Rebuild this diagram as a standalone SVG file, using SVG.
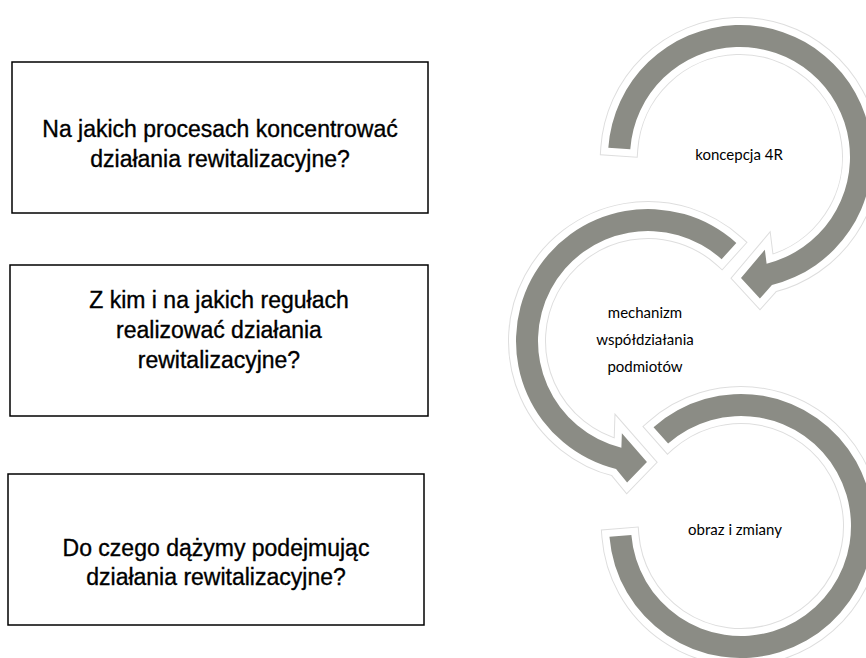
<svg xmlns="http://www.w3.org/2000/svg" xmlns:xlink="http://www.w3.org/1999/xlink" width="866" height="658" viewBox="0 0 866 658">
<style>
.box{fill:#fff;stroke:#000;stroke-width:1.5}
.q{font-family:"Liberation Sans",Arial,sans-serif;font-size:23px;fill:#000;stroke:#000;stroke-width:0.35;text-anchor:middle}
.o1{fill:none;stroke:#dedede;stroke-width:16;stroke-linejoin:miter;stroke-miterlimit:10}
.o2{fill:#fff;stroke:#fff;stroke-width:14;stroke-linejoin:miter;stroke-miterlimit:10}
.f{fill:#8b8c85;stroke:none}
.c{font-family:Lato,"Open Sans",sans-serif;font-size:15px;fill:#000;text-anchor:middle}
</style>
<defs>
<path id="a1" d="M608.32,147.79 A132,132 0 1 1 771.93,285.08 L759.90,298.61 L741,278 L764.85,249.73 L766.61,263.73 A110,110 0 1 0 630.27,149.33 Z"/>
<path id="a2" d="M736.33,242.91 A132,132 0 1 0 616.07,469.08 L627.11,482.47 L646.94,462 L621.86,433.37 L621.39,447.73 A110,110 0 1 1 721.60,259.25 Z"/>
<path id="a3" d="M653.53,427.14 A132,132 0 1 1 609.44,536.82 L631.37,535.01 A110,110 0 1 0 668.11,443.61 Z"/>
</defs>
<g id="q1">
<rect class="box" x="12" y="62" width="416" height="151"/>
<text class="q" x="220" y="137">Na jakich procesach koncentrować</text>
<text class="q" x="220" y="167">działania rewitalizacyjne?</text>
</g>
<g id="q2">
<rect class="box" x="10" y="265" width="418" height="151"/>
<text class="q" x="219" y="308">Z kim i na jakich regułach</text>
<text class="q" x="219" y="338">realizować działania</text>
<text class="q" x="219" y="368">rewitalizacyjne?</text>
</g>
<g id="q3">
<rect class="box" x="8" y="474" width="416" height="151"/>
<text class="q" x="216" y="556">Do czego dążymy podejmując</text>
<text class="q" x="216" y="585">działania rewitalizacyjne?</text>
</g>
<g id="connectors">
<g id="arrow1"><use xlink:href="#a1" class="o1"/><use xlink:href="#a1" class="o2"/><use xlink:href="#a1" class="f"/></g>
<g id="arrow2"><use xlink:href="#a2" class="o1"/><use xlink:href="#a2" class="o2"/><use xlink:href="#a2" class="f"/></g>
<g id="arrow3"><use xlink:href="#a3" class="o1"/><use xlink:href="#a3" class="o2"/><use xlink:href="#a3" class="f"/></g>
</g>
<g id="c1"><text class="c" x="739" y="160">koncepcja 4R</text></g>
<g id="c2">
<text class="c" x="645" y="318">mechanizm</text>
<text class="c" x="645" y="345">współdziałania</text>
<text class="c" x="645" y="372">podmiotów</text>
</g>
<g id="c3"><text class="c" x="735" y="535">obraz i zmiany</text></g>
</svg>
